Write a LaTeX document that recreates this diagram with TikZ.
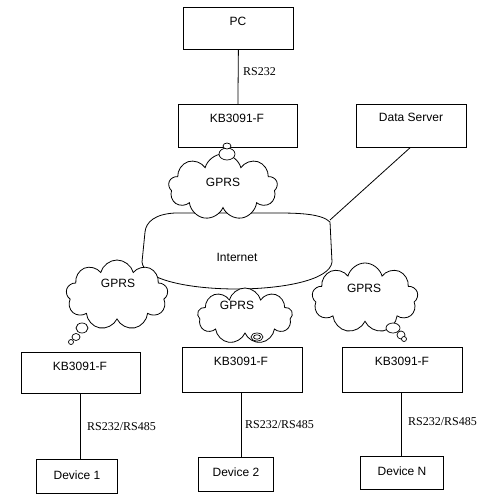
\documentclass[tikz,border=0pt]{standalone}
\usepackage{fontspec}
\setmainfont{Liberation Sans}
\newfontfamily\serifrs{Liberation Serif}
\usetikzlibrary{shapes.symbols}
\begin{document}
\begin{tikzpicture}[x=1pt,y=-1pt,
  boxnode/.style={draw,line width=0.8pt,inner sep=0pt,anchor=north west},
  boxlabel/.style={font=\fontsize{12}{14}\selectfont,inner sep=0pt},
  linklabel/.style={font=\serifrs\fontsize{12}{14}\selectfont,inner sep=0pt,anchor=west},
  cloudnode/.style={cloud,cloud puffs=9,cloud ignores aspect,draw,fill=white,line width=0.8pt,inner sep=0pt},
  puff/.style={draw,fill=white,line width=0.7pt},
  link/.style={line width=0.8pt}]
\useasboundingbox (0,0) rectangle (483,500);
% boxes
\node[boxnode,minimum width=110pt,minimum height=42pt] (pc) at (183,7) {};
\node[boxlabel] (pct) at (238,21) {PC};
\node[boxnode,minimum width=119pt,minimum height=43pt] (kbt) at (178,104) {};
\node[boxlabel] (kbtt) at (237,118) {KB3091-F};
\node[boxnode,minimum width=110pt,minimum height=43pt] (ds) at (356,104) {};
\node[boxlabel] (dst) at (411,117) {Data Server};
\node[boxnode,minimum width=119pt,minimum height=41pt] (kb1) at (21,352) {};
\node[boxlabel] (kb1t) at (80,366) {KB3091-F};
\node[boxnode,minimum width=120pt,minimum height=45pt] (kb2) at (182,347) {};
\node[boxlabel] (kb2t) at (241,361) {KB3091-F};
\node[boxnode,minimum width=120pt,minimum height=45pt] (kb3) at (342,347) {};
\node[boxlabel] (kb3t) at (402,361) {KB3091-F};
\node[boxnode,minimum width=81pt,minimum height=34pt] (d1) at (36,459) {};
\node[boxlabel] (d1t) at (77,475) {Device 1};
\node[boxnode,minimum width=75pt,minimum height=34pt] (d2) at (198,457) {};
\node[boxlabel] (d2t) at (236,472) {Device 2};
\node[boxnode,minimum width=83pt,minimum height=33pt] (d3) at (360,456) {};
\node[boxlabel] (d3t) at (402,471) {Device N};
% vertical links
\draw[link] (pc.south) -- (kbt.north);
\node[linklabel] (rs0) at (243,72) {RS232};
\draw[link] (kb1.south-|80,0) -- (d1.north-|80,0);
\node[linklabel] (rs1) at (87,427) {RS232/RS485};
\draw[link] (kb2.south-|241,0) -- (d2.north-|241,0);
\node[linklabel] (rs2) at (245,425) {RS232/RS485};
\draw[link] (kb3.south-|401,0) -- (d3.north-|401,0);
\node[linklabel] (rs3) at (408,422) {RS232/RS485};
% Internet
\draw[link,fill=white] (142,262) .. controls (145,298) and (328,298) .. (332,262)
  -- (330,222) .. controls (322,214) and (300,213) .. (278,213) -- (175,213)
  .. controls (155,214) and (146,222) .. (145,232) -- cycle;
\node[boxlabel] (inet) at (237,257) {Internet};
\coordinate (inetne) at (330,220);
\draw[link] (ds.south-|410,0) -- (inetne);
% clouds
\node[cloudnode,minimum width=109pt,minimum height=66pt] (c0) at (223,187) {};
\node[boxlabel] (c0t) at (223,182) {GPRS};
\draw[puff] (227,154) ellipse [x radius=8,y radius=6];
\draw[puff] (227,146) ellipse [x radius=4,y radius=3];
\node[cloudnode,minimum width=102pt,minimum height=70pt] (c1) at (117,295) {};
\node[boxlabel] (c1t) at (118,283) {GPRS};
\draw[puff] (82,328) ellipse [x radius=6,y radius=5];
\draw[puff] (76,337) ellipse [x radius=4,y radius=3.5];
\draw[puff] (71,342) circle [radius=2.5];
\node[cloudnode,minimum width=95pt,minimum height=56pt] (c2) at (245,316) {};
\node[boxlabel] (c2t) at (237,305) {GPRS};
\draw[puff] (257,337) ellipse [x radius=6,y radius=4];
\draw[puff] (257,337) ellipse [x radius=3.5,y radius=2.2];
\node[cloudnode,minimum width=106pt,minimum height=70pt] (c3) at (365,298) {};
\node[boxlabel] (c3t) at (364,288) {GPRS};
\draw[puff] (393,328) ellipse [x radius=7,y radius=5];
\draw[puff] (401,335) circle [radius=4];
\draw[puff] (404,339) circle [radius=2.5];
\end{tikzpicture}
\end{document}
